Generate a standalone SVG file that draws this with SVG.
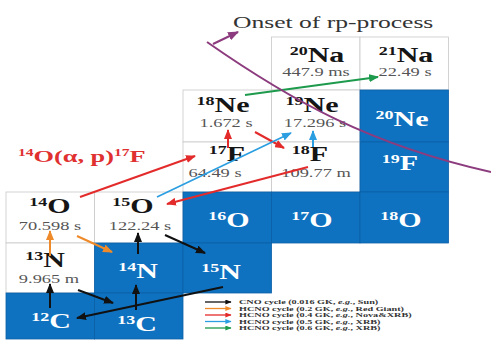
<svg xmlns="http://www.w3.org/2000/svg" width="491" height="360" viewBox="0 0 491 360">
<style>
.w{fill:#fff;stroke:#c8c8c8;stroke-width:0.8}
.bl{fill:#0f72c0;stroke:#0b5fa6;stroke-width:0.8}
.lbl{font-family:"Liberation Serif","Times New Roman",serif;font-weight:bold;font-size:20px;text-anchor:middle}
.sup{font-size:12px}
.dk{fill:#151515}
.wt{fill:#fff}
.hl{font-family:"Liberation Serif","Times New Roman",serif;font-size:11.5px;fill:#555;text-anchor:middle}
.lg{font-family:"Liberation Serif","Times New Roman",serif;font-size:5.6px;font-weight:bold;fill:#333}
.rl{font-family:"Liberation Serif","Times New Roman",serif;font-size:17px;font-weight:bold;fill:#e03030}
.tt{font-family:"Liberation Serif","Times New Roman",serif;font-size:16px;fill:#333}
.k{stroke:#111}.o{stroke:#ef8a2a}.r{stroke:#e32b2b}.b{stroke:#2a9ee0}.g{stroke:#1d9a4c}.p{stroke:#8c3c7e}
</style>
<defs>
<marker id="hk" viewBox="0 0 10 8" refX="9" refY="4" markerWidth="10" markerHeight="8" markerUnits="userSpaceOnUse" orient="auto"><path d="M0,0L10,4L0,8z" fill="#111"/></marker>
<marker id="ho" viewBox="0 0 10 8" refX="9" refY="4" markerWidth="10" markerHeight="8" markerUnits="userSpaceOnUse" orient="auto"><path d="M0,0L10,4L0,8z" fill="#ef8a2a"/></marker>
<marker id="hr" viewBox="0 0 10 8" refX="9" refY="4" markerWidth="10" markerHeight="8" markerUnits="userSpaceOnUse" orient="auto"><path d="M0,0L10,4L0,8z" fill="#e32b2b"/></marker>
<marker id="hb" viewBox="0 0 10 8" refX="9" refY="4" markerWidth="10" markerHeight="8" markerUnits="userSpaceOnUse" orient="auto"><path d="M0,0L10,4L0,8z" fill="#2a9ee0"/></marker>
<marker id="hg" viewBox="0 0 10 8" refX="9" refY="4" markerWidth="10" markerHeight="8" markerUnits="userSpaceOnUse" orient="auto"><path d="M0,0L10,4L0,8z" fill="#1d9a4c"/></marker>
<marker id="hp" viewBox="0 0 10 8" refX="9" refY="4" markerWidth="11" markerHeight="9" markerUnits="userSpaceOnUse" orient="auto"><path d="M0,0L10,4L0,8z" fill="#8c3c7e"/></marker>
<marker id="sk" viewBox="0 0 10 8" refX="9" refY="4" markerWidth="7" markerHeight="5" markerUnits="userSpaceOnUse" orient="auto"><path d="M0,0L10,4L0,8z" fill="#111"/></marker>
<marker id="so" viewBox="0 0 10 8" refX="9" refY="4" markerWidth="7" markerHeight="5" markerUnits="userSpaceOnUse" orient="auto"><path d="M0,0L10,4L0,8z" fill="#ef8a2a"/></marker>
<marker id="sr" viewBox="0 0 10 8" refX="9" refY="4" markerWidth="7" markerHeight="5" markerUnits="userSpaceOnUse" orient="auto"><path d="M0,0L10,4L0,8z" fill="#e32b2b"/></marker>
<marker id="sb" viewBox="0 0 10 8" refX="9" refY="4" markerWidth="7" markerHeight="5" markerUnits="userSpaceOnUse" orient="auto"><path d="M0,0L10,4L0,8z" fill="#2a9ee0"/></marker>
<marker id="sg" viewBox="0 0 10 8" refX="9" refY="4" markerWidth="7" markerHeight="5" markerUnits="userSpaceOnUse" orient="auto"><path d="M0,0L10,4L0,8z" fill="#1d9a4c"/></marker>
</defs>
<rect width="491" height="360" fill="#fff"/>

<g id="n-20Na"><rect class="w" x="271.5" y="37" width="88.5" height="53"/>
<text class="lbl dk" transform="translate(317,62) scale(1.5,1)"><tspan class="sup" dy="-7">20</tspan><tspan dy="7">Na</tspan></text>
<text class="hl" transform="translate(316,76) scale(1.6,1)">447.9 ms</text></g>
<g id="n-21Na"><rect class="w" x="360" y="37" width="88.5" height="53"/>
<text class="lbl dk" transform="translate(406,62) scale(1.5,1)"><tspan class="sup" dy="-7">21</tspan><tspan dy="7">Na</tspan></text>
<text class="hl" transform="translate(405,76) scale(1.6,1)">22.49 s</text></g>

<g id="n-18Ne"><rect class="w" x="183" y="90" width="88.5" height="52"/>
<text class="lbl dk" transform="translate(223,112) scale(1.5,1)"><tspan class="sup" dy="-7">18</tspan><tspan dy="7">Ne</tspan></text>
<text class="hl" transform="translate(226,127) scale(1.6,1)">1.672 s</text></g>
<g id="n-19Ne"><rect class="w" x="271.5" y="90" width="88.5" height="52"/>
<text class="lbl dk" transform="translate(312,112) scale(1.5,1)"><tspan class="sup" dy="-7">19</tspan><tspan dy="7">Ne</tspan></text>
<text class="hl" transform="translate(315,127) scale(1.6,1)">17.296 s</text></g>
<g id="n-20Ne"><rect class="bl" x="360" y="90" width="88.5" height="52"/>
<text class="lbl wt" transform="translate(402,126) scale(1.5,1)"><tspan class="sup" dy="-7">20</tspan><tspan dy="7">Ne</tspan></text></g>

<g id="n-17F"><rect class="w" x="183" y="142" width="88.5" height="50"/>
<text class="lbl dk" transform="translate(227,161) scale(1.5,1)"><tspan class="sup" dy="-7">17</tspan><tspan dy="7">F</tspan></text>
<text class="hl" transform="translate(215,177) scale(1.6,1)">64.49 s</text></g>
<g id="n-18F"><rect class="w" x="271.5" y="142" width="88.5" height="50"/>
<text class="lbl dk" transform="translate(310,161) scale(1.5,1)"><tspan class="sup" dy="-7">18</tspan><tspan dy="7">F</tspan></text>
<text class="hl" transform="translate(316,177) scale(1.6,1)">109.77 m</text></g>
<g id="n-19F"><rect class="bl" x="360" y="142" width="88.5" height="50"/>
<text class="lbl wt" transform="translate(400,170) scale(1.5,1)"><tspan class="sup" dy="-7">19</tspan><tspan dy="7">F</tspan></text></g>

<g id="n-14O"><rect class="w" x="6" y="192" width="88.5" height="51"/>
<text class="lbl dk" transform="translate(50,213) scale(1.5,1)"><tspan class="sup" dy="-7">14</tspan><tspan dy="7">O</tspan></text>
<text class="hl" transform="translate(50,230) scale(1.6,1)">70.598 s</text></g>
<g id="n-15O"><rect class="w" x="94.5" y="192" width="88.5" height="51"/>
<text class="lbl dk" transform="translate(133,213) scale(1.5,1)"><tspan class="sup" dy="-7">15</tspan><tspan dy="7">O</tspan></text>
<text class="hl" transform="translate(140,230) scale(1.6,1)">122.24 s</text></g>
<g id="n-16O"><rect class="bl" x="183" y="192" width="88.5" height="51"/>
<text class="lbl wt" transform="translate(229,227) scale(1.5,1)"><tspan class="sup" dy="-7">16</tspan><tspan dy="7">O</tspan></text></g>
<g id="n-17O"><rect class="bl" x="271.5" y="192" width="88.5" height="51"/>
<text class="lbl wt" transform="translate(312,227) scale(1.5,1)"><tspan class="sup" dy="-7">17</tspan><tspan dy="7">O</tspan></text></g>
<g id="n-18O"><rect class="bl" x="360" y="192" width="88.5" height="51"/>
<text class="lbl wt" transform="translate(401,227) scale(1.5,1)"><tspan class="sup" dy="-7">18</tspan><tspan dy="7">O</tspan></text></g>

<g id="n-13N"><rect class="w" x="6" y="243" width="88.5" height="50"/>
<text class="lbl dk" transform="translate(45,267) scale(1.5,1)"><tspan class="sup" dy="-7">13</tspan><tspan dy="7">N</tspan></text>
<text class="hl" transform="translate(49,283) scale(1.6,1)">9.965 m</text></g>
<g id="n-14N"><rect class="bl" x="94.5" y="243" width="88.5" height="50"/>
<text class="lbl wt" transform="translate(138,278) scale(1.5,1)"><tspan class="sup" dy="-7">14</tspan><tspan dy="7">N</tspan></text></g>
<g id="n-15N"><rect class="bl" x="183" y="243" width="88.5" height="50"/>
<text class="lbl wt" transform="translate(221,279) scale(1.5,1)"><tspan class="sup" dy="-7">15</tspan><tspan dy="7">N</tspan></text></g>

<g id="n-12C"><rect class="bl" x="6" y="293" width="88.5" height="46"/>
<text class="lbl wt" transform="translate(51,328) scale(1.5,1)"><tspan class="sup" dy="-7">12</tspan><tspan dy="7">C</tspan></text></g>
<g id="n-13C"><rect class="bl" x="94.5" y="293" width="88.5" height="46"/>
<text class="lbl wt" transform="translate(137,331) scale(1.5,1)"><tspan class="sup" dy="-7">13</tspan><tspan dy="7">C</tspan></text></g>

<g id="title"><text class="tt" transform="translate(233,28) scale(1.6,1)">Onset of rp-process</text></g>
<g id="reaction-label"><text class="rl" transform="translate(18,162) scale(1.55,1)"><tspan font-size="10" dy="-6">14</tspan><tspan dy="6">O(α, p)</tspan><tspan font-size="10" dy="-6">17</tspan><tspan dy="6">F</tspan></text></g>

<g id="connectors" fill="none" stroke-width="2">
<line class="k" x1="50" y1="308" x2="50" y2="284" marker-end="url(#hk)"/>
<line class="k" x1="78" y1="290" x2="113" y2="303" marker-end="url(#hk)"/>
<line class="k" x1="136" y1="310" x2="136" y2="285" marker-end="url(#hk)"/>
<line class="k" x1="138" y1="254" x2="138" y2="233" marker-end="url(#hk)"/>
<line class="k" x1="165" y1="235" x2="205" y2="253" marker-end="url(#hk)"/>
<line class="k" x1="223" y1="287" x2="77" y2="318" marker-end="url(#hk)"/>
<line class="o" x1="50" y1="256" x2="50" y2="231" marker-end="url(#ho)"/>
<line class="o" x1="77" y1="236" x2="112" y2="252" marker-end="url(#ho)"/>
<line class="r" x1="80" y1="197" x2="195" y2="156" marker-end="url(#hr)"/>
<line class="r" x1="228" y1="148" x2="228" y2="130" marker-end="url(#hr)"/>
<line class="r" x1="255" y1="132" x2="284" y2="148" marker-end="url(#hr)"/>
<line class="r" x1="308" y1="167" x2="167" y2="204" marker-end="url(#hr)"/>
<line class="b" stroke-width="1.6" x1="157" y1="197" x2="291" y2="133" marker-end="url(#hb)"/>
<line class="b" x1="313" y1="147" x2="313" y2="131" marker-end="url(#hb)"/>
<line class="g" x1="245" y1="95" x2="378" y2="77" marker-end="url(#hg)"/>
<path class="p" d="M207,42 C290,100 370,145 491,172"/>
<line class="p" x1="213" y1="44" x2="238" y2="32" marker-end="url(#hp)"/>
</g>

<g id="legend" fill="none" stroke-width="1.3">
<line class="k" x1="205" y1="302" x2="231" y2="302" marker-end="url(#sk)"/>
<line class="o" x1="205" y1="308.5" x2="231" y2="308.5" marker-end="url(#so)"/>
<line class="r" x1="205" y1="315" x2="231" y2="315" marker-end="url(#sr)"/>
<line class="b" x1="205" y1="321.5" x2="231" y2="321.5" marker-end="url(#sb)"/>
<line class="g" x1="205" y1="328" x2="231" y2="328" marker-end="url(#sg)"/>
<text class="lg" transform="translate(239,304) scale(1.82,1)">CNO cycle (0.016 GK, <tspan font-style="italic">e.g.</tspan>, Sun)</text>
<text class="lg" transform="translate(239,310.5) scale(1.82,1)">HCNO cycle (0.2 GK, <tspan font-style="italic">e.g.</tspan>, Red Giant)</text>
<text class="lg" transform="translate(239,317) scale(1.82,1)">HCNO cycle (0.4 GK, <tspan font-style="italic">e.g.</tspan>, Nova&amp;XRB)</text>
<text class="lg" transform="translate(239,323.5) scale(1.82,1)">HCNO cycle (0.5 GK, <tspan font-style="italic">e.g.</tspan>, XRB)</text>
<text class="lg" transform="translate(239,330) scale(1.82,1)">HCNO cycle (0.6 GK, <tspan font-style="italic">e.g.</tspan>, XRB)</text>
</g>
</svg>
